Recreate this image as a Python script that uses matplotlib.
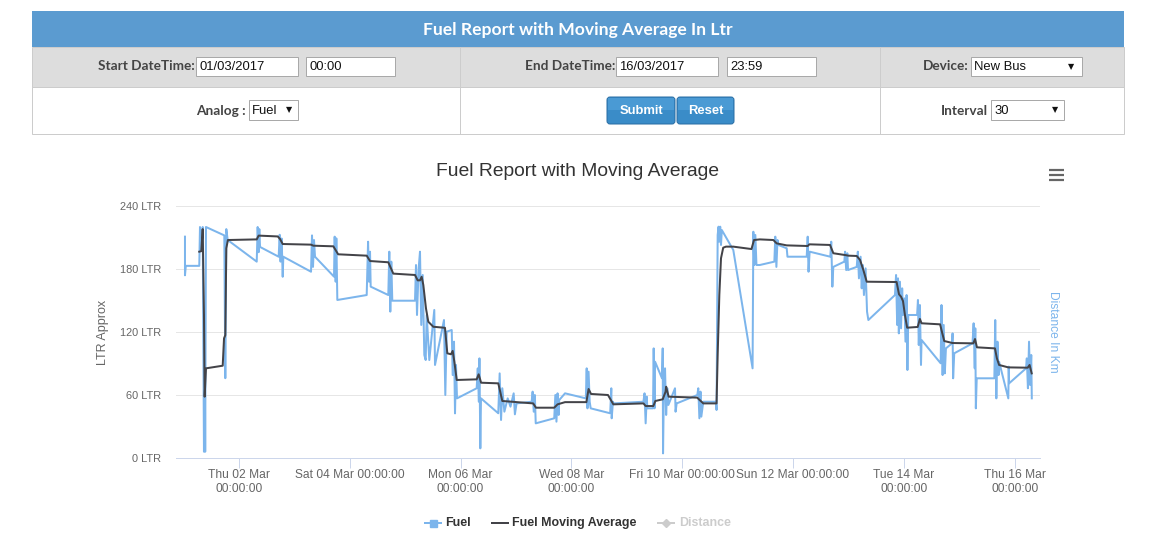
import matplotlib
matplotlib.use("Agg")
import matplotlib.pyplot as plt
from matplotlib.patches import Rectangle, FancyBboxPatch
from matplotlib.lines import Line2D
import numpy as np
import pandas as pd

# ---------------- data (days since 01 Mar 2017 00:00, litres) ----------------
start_time = pd.Timestamp("2017-03-01 00:00")

fuel_day = [
    0.025, 0.025, 0.04, 0.283, 0.296, 0.32, 0.345, 0.368, 0.38, 0.39,
    0.404, 0.735, 0.753, 0.771, 0.796, 1.32, 1.337, 1.355, 1.367, 1.38,
    1.716, 1.734, 1.75, 1.77, 1.789, 1.80, 2.30, 2.318, 2.336, 2.354,
    2.372, 2.715, 2.727, 2.745, 2.757, 2.775, 3.305, 3.33, 3.347, 3.365,
    3.377, 3.695, 3.713, 3.731, 3.749, 3.767, 4.177, 4.195, 4.213, 4.243,
    4.267, 4.29, 4.316, 4.345, 4.37, 4.388, 4.435, 4.525, 4.538, 4.70,
    4.724, 4.749, 4.84, 4.857, 4.881, 4.899, 4.917, 4.935, 5.29, 5.31,
    5.33, 5.34, 5.356, 5.368, 5.68, 5.705, 5.73, 5.753, 5.79, 5.85,
    5.90, 5.958, 5.98, 6.01, 6.283, 6.30, 6.32, 6.34, 6.356, 6.69,
    6.71, 6.73, 6.75, 6.77, 6.78, 6.885, 7.26, 7.276, 7.29, 7.31,
    7.33, 7.348, 7.70, 7.72, 7.727, 7.75, 7.76, 8.30, 8.32, 8.34,
    8.36, 8.37, 8.473, 8.485, 8.50, 8.51, 8.635, 8.648, 8.654, 8.666,
    8.69, 8.71, 8.73, 8.75, 8.87, 8.88, 8.90, 9.273, 9.29, 9.31,
    9.33, 9.345, 9.38, 9.61, 9.62, 9.64, 9.656, 9.668, 9.686, 9.70,
    9.715, 9.922, 10.27, 10.284, 10.30, 10.32, 10.34, 10.40, 10.663, 10.68,
    10.70, 10.72, 10.735, 10.886, 10.90, 11.247, 11.265, 11.28, 11.30, 11.673,
    11.69, 11.71, 11.727, 11.926, 11.94, 11.96, 11.98, 11.993, 12.15, 12.17,
    12.19, 12.22, 12.24, 12.26, 12.28, 12.31, 12.336, 12.36, 12.84, 12.86,
    12.88, 12.895, 12.91, 12.93, 12.95, 12.97, 12.985, 13.01, 13.03, 13.05,
    13.065, 13.08, 13.24, 13.255, 13.27, 13.29, 13.31, 13.32, 13.665, 13.68,
    13.70, 13.72, 13.74, 13.76, 13.87, 13.88, 13.89, 13.91, 14.24, 14.26,
    14.28, 14.29, 14.30, 14.316, 14.634, 14.65, 14.67, 14.69, 14.71, 14.72,
    14.886, 14.893, 14.90, 15.206, 15.22, 15.24, 15.26, 15.28, 15.30, 15.31,
]
fuel_ltr = [
    210.8, 174, 183, 183, 220, 199, 220, 6, 136, 6,
    220, 212, 76, 218, 207.6, 187, 220, 196, 218, 201,
    191.7, 212.6, 187, 209, 172.6, 191.7, 177.4, 212, 182, 207.6,
    191.7, 172.7, 210.8, 167.9, 209.2, 150.5, 155.2, 206, 167.9, 196.5,
    163.2, 155.2, 196.5, 139.4, 187, 149.8, 149.8, 183.8, 136.2, 180.6,
    196.5, 126.7, 174.3, 98.1, 93.3, 136.2, 93.3, 141, 88.6, 131.4,
    60, 120.3, 121.9, 79, 110.8, 42.5, 88.6, 56.8, 66.4, 85.4,
    53.6, 94.9, 9.2, 56.8, 42.6, 80.6, 36.2, 66.4, 44.1, 56.8,
    48.9, 61.6, 41.6, 52, 53.6, 63.2, 44.1, 60, 33, 37.8,
    60, 34.6, 61.6, 41, 55.2, 61.6, 56.8, 85.4, 47.3, 82.2,
    53.6, 47.3, 42.6, 66.4, 37.8, 53.6, 52, 53.6, 61.6, 33,
    58.4, 47.3, 47.3, 104.4, 47.3, 91.7, 75.9, 104.4, 4.4, 53.6,
    85.4, 41, 66.4, 50.5, 66.4, 44.1, 52, 60, 66.4, 37.8,
    63.2, 39.4, 53.6, 53.6, 45.7, 212.4, 220.3, 206, 220.3, 202.9,
    217.1, 198.1, 85.4, 215.5, 183.8, 212.4, 183.8, 183.8, 187, 210.8,
    182, 207.6, 202.9, 199.7, 191.7, 191.7, 210.8, 177.4, 196.5, 191.7,
    206, 163.2, 182, 187, 196.5, 179, 195, 179, 182, 196.5,
    171.1, 191.7, 161.6, 183.8, 155.2, 180.6, 139.4, 131.4, 155.2, 174.3,
    126.7, 171.1, 118.7, 167.9, 123.5, 161.6, 136.2, 152, 110.8, 155.2,
    83.8, 136.2, 136.2, 150.5, 107.6, 145.7, 88.6, 112.4, 90.2, 145.7,
    79, 126.7, 80.6, 104.4, 109.2, 118.7, 75.9, 99.7, 109.2, 128.3,
    85.4, 123.5, 47.3, 75.9, 75.9, 131.4, 56.8, 110.8, 79, 91.7,
    56.8, 87, 71.1, 85.4, 94.9, 66.4, 110.8, 69.5, 98.1, 56.8,
]

avg_day = [
    0.283, 0.32, 0.345, 0.368, 0.38, 0.404, 0.706, 0.73, 0.753, 0.771,
    0.80, 1.32, 1.355, 1.70, 1.74, 1.789, 2.30, 2.342, 2.703, 2.79,
    3.305, 3.365, 3.695, 3.785, 4.177, 4.225, 4.267, 4.297, 4.327, 4.375,
    4.417, 4.507, 4.718, 4.76, 4.826, 4.857, 4.887, 4.93, 5.29, 5.326,
    5.37, 5.68, 5.753, 6.31, 6.36, 6.69, 6.75, 6.885, 7.27, 7.31,
    7.354, 7.66, 7.757, 8.30, 8.34, 8.479, 8.515, 8.648, 8.70, 8.71,
    8.755, 9.27, 9.38, 9.62, 9.64, 9.67, 9.70, 9.74, 9.79, 9.922,
    10.25, 10.296, 10.40, 10.645, 10.705, 10.886, 11.265, 11.295, 11.668, 11.728,
    11.94, 12.0, 12.15, 12.21, 12.27, 12.33, 12.87, 12.913, 12.95, 12.985,
    13.02, 13.06, 13.25, 13.29, 13.32, 13.655, 13.69, 13.73, 13.88, 14.255,
    14.285, 14.32, 14.645, 14.68, 14.72, 14.886, 15.236, 15.27, 15.308,
]
avg_ltr = [
    196.5, 197, 218, 136, 58.4, 85.4, 87.9, 114, 117, 199.7,
    207.6, 208.2, 211.8, 211, 208.6, 203.8, 203.2, 202.2, 201.6, 194,
    192.7, 187.6, 186.4, 175.6, 174.3, 169.2, 169.2, 172.6, 164.8, 142.5,
    129.8, 125, 124, 99.7, 98.8, 102, 91.7, 74.3, 74.9, 79.7,
    71.7, 71.1, 54.3, 52, 47.9, 47.9, 51.1, 53.2, 53.2, 65.7,
    61, 60, 51.1, 52, 49.5, 49.5, 54.3, 55.9, 63.2, 67.9,
    58.4, 57.5, 52, 52, 98.1, 155.2, 190.2, 200.3, 201.3, 201.3,
    199, 207.6, 208.2, 207.6, 204.4, 202.5, 201.9, 203.5, 202.9, 195,
    193.3, 192.7, 192.4, 188.6, 179, 167.9, 167.6, 155.9, 153.6, 149.5,
    136.2, 124.1, 124.8, 132.4, 128.3, 127.3, 119.7, 111.4, 109.5, 109.2,
    113.3, 105.4, 104.4, 94.9, 88.6, 86.3, 86, 88.6, 80.6,
]

x_tick_labels = [
    "Thu 02 Mar\n00:00:00", "Sat 04 Mar 00:00:00", "Mon 06 Mar\n00:00:00",
    "Wed 08 Mar\n00:00:00", "Fri 10 Mar 00:00:00", "Sun 12 Mar 00:00:00",
    "Tue 14 Mar\n00:00:00", "Thu 16 Mar\n00:00:00",
]
y_ticks = [0, 60, 120, 180, 240]
y_tick_labels = ["0 LTR", "60 LTR", "120 LTR", "180 LTR", "240 LTR"]
series_names = ["Fuel", "Fuel Moving Average", "Distance"]

# ---------------- styling ----------------
W, H = 1149, 549
PX = 0.72  # points per pixel at dpi 100
C_FUEL = "#7cb5ec"
C_AVG = "#434348"
C_HIDDEN = "#cccccc"
C_TEXT = "#666666"
CHART_FONT = "Liberation Sans"
FORM_FONT = "Lato"

fig = plt.figure(figsize=(W / 100, H / 100), dpi=100)
fig.patch.set_facecolor("white")

# ---------- page / form layer (pixel coordinates) ----------
ui = fig.add_axes([0, 0, 1, 1], zorder=0)
ui.set_xlim(0, W)
ui.set_ylim(H, 0)
ui.axis("off")

ui.add_patch(Rectangle((32, 11), 1092, 36, fc="#5b9bd0", ec="#5b9bd0", lw=0))
ui.text(578, 29.5, "Fuel Report with Moving Average In Ltr", color="white",
        fontsize=17.5 * PX, fontweight="bold", family=FORM_FONT,
        ha="center", va="center")
ui.add_patch(Rectangle((32, 47), 1092, 40, fc="#dddddd", ec="#cccccc", lw=1 * PX))
ui.add_patch(Rectangle((32, 87), 1092, 47, fc="white", ec="#cccccc", lw=1 * PX))
for xd in (460, 880):
    ui.plot([xd, xd], [47, 134], color="#cccccc", lw=1 * PX)

def label(x, y, s):
    ui.text(x, y, s, color="#444444", fontsize=13.6 * PX, fontweight="bold",
            family=FORM_FONT, ha="right", va="center")

def field(x, y, w, h, s, arrow_x=None):
    ui.add_patch(Rectangle((x, y), w, h, fc="white", ec="#a9a9a9", lw=1 * PX))
    ui.text(x + 3, y + h / 2 + 0.5, s, color="#111111", fontsize=13 * PX,
            family=CHART_FONT, ha="left", va="center")
    if arrow_x is not None:
        ui.text(arrow_x, y + h / 2, "\u25bc", color="#111111", fontsize=8 * PX,
                family="DejaVu Sans", ha="center", va="center")

label(195, 66.5, "Start DateTime:")
field(196, 57, 102, 19, "01/03/2017")
field(306, 57, 89, 19, "00:00")
label(615, 66.5, "End DateTime:")
field(616, 57, 102, 19, "16/03/2017")
field(727, 57, 89, 19, "23:59")
label(969, 66.5, "Device:")
field(971, 57, 111, 19, "New Bus", arrow_x=1071)

label(246, 111, "Analog :")
field(249, 100, 49, 20, "Fuel", arrow_x=289)
label(988, 111, "Interval")
field(991, 100, 73, 20, "30", arrow_x=1055)

for bx, bw, txt in ((607, 68, "Submit"), (677, 57, "Reset")):
    ui.add_patch(FancyBboxPatch((bx, 97), bw, 27,
                                boxstyle="round,pad=0,rounding_size=3",
                                fc="#3a8cc8", ec="#2a6ea5", lw=1 * PX))
    ui.add_patch(Rectangle((bx + 1, 98), bw - 2, 12, fc="#4a9ad4", ec="none"))
    ui.text(bx + bw / 2, 110.5, txt, color="white", fontsize=13 * PX,
            fontweight="bold", family=CHART_FONT, ha="center", va="center")

# chart title and menu icon
ui.text(578, 172, "Fuel Report with Moving Average", color="#333333",
        fontsize=19.3 * PX, family=CHART_FONT, ha="center", va="center")
for yy in (169.5, 174.5, 179.5):
    ui.plot([1049, 1064], [yy, yy], color="#666666", lw=2.2 * PX,
            solid_capstyle="butt")

# legend
LY = 523
ui.add_line(Line2D([425, 441], [LY, LY], color=C_FUEL, lw=2 * PX))
ui.plot([433], [LY], marker="s", ms=7 * PX, color=C_FUEL, mec=C_FUEL)
ui.text(445, LY, series_names[0], color="#333333", fontsize=12.4 * PX,
        fontweight="bold", family=CHART_FONT, ha="left", va="center")
ui.add_line(Line2D([492, 508], [LY, LY], color=C_AVG, lw=2 * PX))
ui.text(512, LY, series_names[1], color="#333333", fontsize=12.4 * PX,
        fontweight="bold", family=CHART_FONT, ha="left", va="center")
ui.add_line(Line2D([658, 674], [LY, LY], color=C_HIDDEN, lw=2 * PX))
ui.plot([666], [LY], marker="D", ms=6 * PX, color=C_HIDDEN, mec=C_HIDDEN)
ui.text(679, LY, series_names[2], color=C_HIDDEN, fontsize=12.4 * PX,
        fontweight="bold", family=CHART_FONT, ha="left", va="center")

# ---------- chart ----------
L, R, T, B = 176, 1040, 206, 458
ax = fig.add_axes([L / W, (H - B) / H, (R - L) / W, (B - T) / H], zorder=2)
ax.patch.set_alpha(0)

fuel_t = start_time + pd.to_timedelta(np.array(fuel_day), unit="D")
avg_t = start_time + pd.to_timedelta(np.array(avg_day), unit="D")

ax.plot(fuel_t, fuel_ltr, color=C_FUEL, lw=2 * PX, zorder=3,
        solid_joinstyle="round")
ax.plot(avg_t, avg_ltr, color=C_AVG, lw=2 * PX, zorder=4,
        solid_joinstyle="round")

ax.set_xlim(start_time + pd.Timedelta(days=-0.137),
            start_time + pd.Timedelta(days=15.458))
ax.set_ylim(0, 240)

tick_times = pd.date_range("2017-03-02", periods=len(x_tick_labels), freq="2D")
ax.set_xticks(tick_times)
ax.set_xticklabels(x_tick_labels, fontsize=12 * PX, color=C_TEXT,
                   family=CHART_FONT, linespacing=1.2, va="top", ha="center")
ax.set_yticks(y_ticks)
ax.set_yticklabels(y_tick_labels, fontsize=11 * PX, color=C_TEXT,
                   family=CHART_FONT)

ax.tick_params(axis="x", length=10 * PX, width=1 * PX, color="#ccd6eb",
               direction="out", pad=1.0 * PX)
ax.tick_params(axis="y", length=0, pad=15 * PX)
ax.grid(axis="y", color="#e6e6e6", lw=1 * PX)
ax.set_axisbelow(True)
for side in ("top", "right", "left"):
    ax.spines[side].set_visible(False)
ax.spines["bottom"].set_color("#ccd6eb")
ax.spines["bottom"].set_linewidth(1 * PX)

ax.set_ylabel("LTR Approx", fontsize=12.5 * PX, color=C_TEXT, family=CHART_FONT,
              labelpad=0)
ax.yaxis.set_label_coords((109 - L) / (R - L), 0.5)
ax.text((1053 - L) / (R - L), 0.5, "Distance In Km", transform=ax.transAxes,
        rotation=270, fontsize=12 * PX, color=C_FUEL, family=CHART_FONT,
        ha="center", va="center")

fig.savefig("out.png", dpi=100, facecolor="white")
